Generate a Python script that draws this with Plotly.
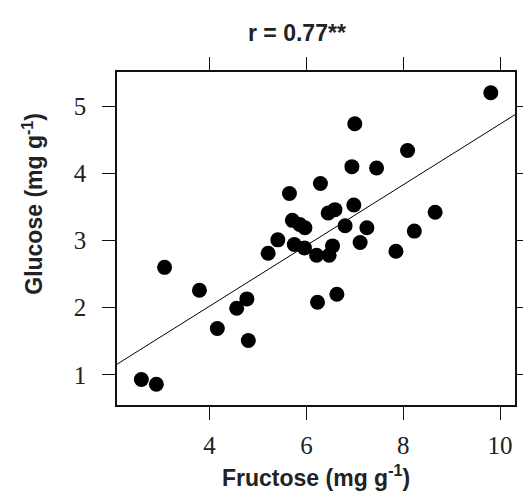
import plotly.graph_objects as go

fructose = [9.81, 7.00, 8.09, 6.94, 7.45, 6.29, 5.65, 6.98, 6.59, 6.45, 8.66, 5.71,
            5.86, 5.97, 6.80, 7.25, 8.23, 5.41, 7.11, 5.75, 5.96, 6.54, 5.21, 6.21,
            6.47, 7.85, 3.07, 3.79, 4.77, 4.56, 6.63, 6.23, 4.16, 4.80, 2.59, 2.90]
glucose = [5.20, 4.74, 4.34, 4.10, 4.08, 3.85, 3.70, 3.53, 3.46, 3.41, 3.42, 3.30,
           3.24, 3.19, 3.22, 3.19, 3.14, 3.01, 2.97, 2.94, 2.89, 2.92, 2.81, 2.78,
           2.78, 2.84, 2.60, 2.26, 2.13, 1.99, 2.20, 2.08, 1.69, 1.51, 0.93, 0.86]

fit_slope = 0.452
fit_intercept = 0.214
fit_x = [1.5, 11.0]
fit_y = [fit_intercept + fit_slope * v for v in fit_x]

x_ticks = [4, 6, 8, 10]
y_ticks = [1, 2, 3, 4, 5]

title_text = "r = 0.77**"
x_title = "Fructose (mg g<sup>-1</sup>)"
y_title = "Glucose (mg g<sup>-1</sup>)"

fig = go.Figure()
fig.add_trace(go.Scatter(x=fit_x, y=fit_y, mode="lines",
                         line=dict(color="black", width=1), showlegend=False,
                         hoverinfo="skip"))
fig.add_trace(go.Scatter(x=fructose, y=glucose, mode="markers",
                         marker=dict(color="black", size=15), showlegend=False))

tickfont = dict(family="Liberation Serif", size=25, color="#222")
axis_common = dict(showgrid=False, zeroline=False, showline=True, linecolor="#111",
                   linewidth=1.5, mirror="ticks", ticks="outside", ticklen=13,
                   tickwidth=1.3, tickcolor="#111", tickfont=tickfont)

titlefont = dict(family="Liberation Sans", size=23, color="#222")

fig.update_layout(
    width=531, height=491,
    margin=dict(l=109, r=9, t=64, b=94),
    plot_bgcolor="white", paper_bgcolor="white",
    xaxis=dict(range=[2.087, 10.31], tickvals=x_ticks, ticklabelstandoff=4, **axis_common),
    yaxis=dict(range=[0.55, 5.51], tickvals=y_ticks, ticklabelstandoff=11, **axis_common),
    annotations=[
        dict(text="<b>" + title_text + "</b>", xref="paper", yref="paper", x=0.453, y=1.117,
             xanchor="center", yanchor="middle", showarrow=False, font=titlefont),
        dict(text="<b>" + x_title + "</b>", xref="paper", yref="paper", x=0.5, y=-0.214,
             xanchor="center", yanchor="middle", showarrow=False, font=titlefont),
        dict(text="<b>" + y_title + "</b>", xref="paper", yref="paper", x=-0.213, y=0.605,
             xanchor="center", yanchor="middle", showarrow=False, textangle=-90,
             font=titlefont),
    ],
)

fig.write_html("out.html")
